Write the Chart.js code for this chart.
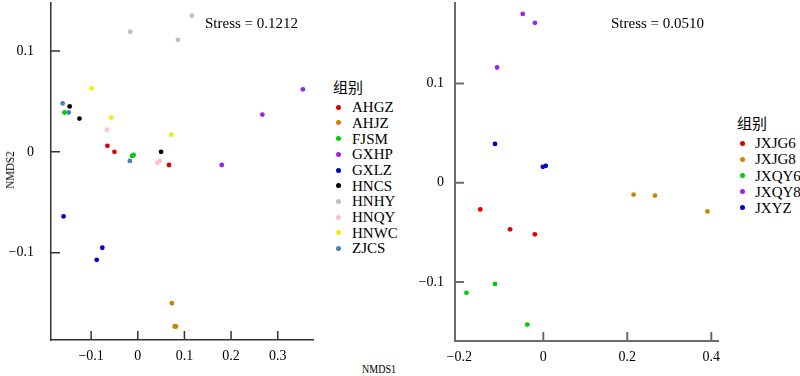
<!DOCTYPE html>
<html>
<head>
<meta charset="utf-8">
<script src="https://cdn.jsdelivr.net/npm/chart.js@4"></script>
<style>
  body { margin: 0; background: #fff; }
  #wrap { position: relative; width: 800px; height: 376px; overflow: hidden; font-family: 'Liberation Serif', serif; color: #000; }
  canvas { position: absolute; top: 0; }
  .txt { position: absolute; white-space: nowrap; }
  .leg-title { position: absolute; font: 15px 'Noto Sans CJK SC', sans-serif; line-height: 18px; }
  .leg-item { position: absolute; font-size: 15px; line-height: 16px; }
  .dot { position: absolute; width: 5px; height: 5px; border-radius: 50%; }
</style>
</head>
<body>
<div id="wrap">
  <canvas id="left" width="330" height="376" style="left:0"></canvas>
  <canvas id="right" width="330" height="376" style="left:400px"></canvas>
  <div class="txt" style="left:205px; top:14px; font-size:15px; line-height:18px;">Stress = 0.1212</div>
  <div class="txt" style="left:611px; top:14px; font-size:15px; line-height:18px;">Stress = 0.0510</div>
  <div class="txt" style="left:379px; top:369px; font-size:12.5px; line-height:14px; transform:translate(-50%,-50%) scaleX(0.8);">NMDS1</div>
  <div class="txt" style="left:10px; top:170px; font-size:13.5px; line-height:16px; transform:translate(-50%,-50%) rotate(-90deg) scaleX(0.82);">NMDS2</div>
  <div id="legLeft"></div>
  <div id="legRight"></div>
</div>
<script>
{ // scoping

// ---- left panel data ----
const leftGroups = ['AHGZ', 'AHJZ', 'FJSM', 'GXHP', 'GXLZ', 'HNCS', 'HNHY', 'HNQY', 'HNWC', 'ZJCS'];
const leftColors = ['#dd0000', '#cd8500', '#00cd00', '#a020f0', '#0000cd', '#000000', '#bebebe', '#ffc0cb', '#eeee00', '#4682b4'];
const leftNmds1 = [
  [-0.065, -0.050, 0.067],
  [0.073, 0.079, 0.082],
  [-0.157, -0.012, -0.009],
  [0.354, 0.267, 0.180],
  [-0.159, -0.076, -0.088],
  [-0.146, -0.125, 0.050],
  [0.116, -0.016, 0.086],
  [-0.066, 0.042, 0.047],
  [-0.099, -0.057, 0.072],
  [-0.161, -0.148, -0.017]
];
const leftNmds2 = [
  [0.006, 0.000, -0.013],
  [-0.150, -0.173, -0.173],
  [0.039, -0.004, -0.003],
  [0.062, 0.037, -0.013],
  [-0.064, -0.095, -0.107],
  [0.045, 0.033, 0.000],
  [0.135, 0.119, 0.111],
  [0.022, -0.011, -0.009],
  [0.063, 0.034, 0.017],
  [0.048, 0.039, -0.009]
];
const leftXTicks = [-0.1, 0, 0.1, 0.2, 0.3];
const leftYTicks = [-0.1, 0, 0.1];

// ---- right panel data ----
const rightGroups = ['JXJG6', 'JXJG8', 'JXQY6', 'JXQY8', 'JXYZ'];
const rightColors = ['#dd0000', '#cd8500', '#00cd00', '#a020f0', '#0000cd'];
const rightNmds1 = [
  [-0.150, -0.079, -0.020],
  [0.215, 0.266, 0.391],
  [-0.183, -0.115, -0.038],
  [-0.049, -0.020, -0.110],
  [-0.115, -0.001, 0.006]
];
const rightNmds2 = [
  [-0.027, -0.047, -0.052],
  [-0.012, -0.013, -0.029],
  [-0.111, -0.102, -0.143],
  [0.170, 0.161, 0.116],
  [0.039, 0.016, 0.017]
];
const rightXTicks = [-0.2, 0, 0.2, 0.4];
const rightYTicks = [-0.1, 0, 0.1];

// tick label like R: unicode minus, plain 0
function fmt(v) {
  if (Math.abs(v) < 1e-9) return '0';
  return (v < 0 ? '\u2212' : '') + Math.abs(v).toFixed(1);
}

// R-style tick marks pointing into the plot
const innerTicks = {
  id: 'innerTicks',
  afterDraw(chart, args, opts) {
    const ctx = chart.ctx;
    const area = chart.chartArea;
    const xs = chart.scales.x, ys = chart.scales.y;
    ctx.save();
    ctx.strokeStyle = opts.color;
    ctx.lineWidth = opts.width;
    ctx.beginPath();
    xs.ticks.forEach(t => {
      const px = xs.getPixelForValue(t.value);
      if (px - area.left < 5) return;
      ctx.moveTo(px, area.bottom);
      ctx.lineTo(px, area.bottom - opts.len);
    });
    ys.ticks.forEach(t => {
      const py = ys.getPixelForValue(t.value);
      ctx.moveTo(area.left, py);
      ctx.lineTo(area.left + opts.len, py);
    });
    ctx.stroke();
    ctx.restore();
  }
};

function makeChart(id, cfg) {
  const datasets = cfg.groups.map((g, i) => ({
    label: g,
    data: cfg.xs[i].map((x, j) => ({ x: x, y: cfg.ys[i][j] })),
    backgroundColor: cfg.colors[i],
    borderWidth: 0,
    pointRadius: 2.4,
    pointHoverRadius: 2.4
  }));
  const tickFont = { family: 'Liberation Serif', size: 14 };
  return new Chart(document.getElementById(id).getContext('2d'), {
    type: 'scatter',
    data: { datasets: datasets },
    plugins: [innerTicks],
    options: {
      responsive: false,
      animation: false,
      layout: { autoPadding: false, padding: { top: 3, right: cfg.padRight, left: 0, bottom: 0 } },
      plugins: {
        legend: { display: false },
        tooltip: { enabled: false },
        innerTicks: { color: cfg.axisColor, width: cfg.axisWidth, len: 9 }
      },
      scales: {
        x: {
          type: 'linear',
          min: cfg.xMin, max: cfg.xMax,
          grid: { display: false, drawTicks: false },
          border: { display: true, color: cfg.axisColor, width: cfg.axisWidth },
          afterBuildTicks: s => { s.ticks = cfg.xTicks.map(v => ({ value: v })); },
          afterFit: s => { s.height = cfg.xHeight; s.paddingLeft = 0; s.paddingRight = 0; },
          ticks: { font: tickFont, color: '#000', padding: 8, maxRotation: 0, callback: v => fmt(v) }
        },
        y: {
          type: 'linear',
          min: cfg.yMin, max: cfg.yMax,
          grid: { display: false, drawTicks: false },
          border: { display: true, color: cfg.axisColor, width: cfg.axisWidth },
          afterBuildTicks: s => { s.ticks = cfg.yTicks.map(v => ({ value: v })); },
          afterFit: s => { s.width = cfg.yWidth; s.paddingTop = 0; s.paddingBottom = 0; },
          ticks: { font: tickFont, color: '#000', padding: cfg.yPad, callback: v => fmt(v) }
        }
      }
    }
  });
}

makeChart('left', {
  groups: leftGroups, colors: leftColors, xs: leftNmds1, ys: leftNmds2,
  xTicks: leftXTicks, yTicks: leftYTicks,
  xMin: -0.186, xMax: 0.3756, yMin: -0.1864, yMax: 0.1475,
  yWidth: 51, xHeight: 36, padRight: 17, yPad: 17,
  axisColor: '#333333', axisWidth: 1.5
});

makeChart('right', {
  groups: rightGroups, colors: rightColors, xs: rightNmds1, ys: rightNmds2,
  xTicks: rightXTicks, yTicks: rightYTicks,
  xMin: -0.2102, xMax: 0.416, yMin: -0.1595, yMax: 0.181,
  yWidth: 55, xHeight: 35, padRight: 12, yPad: 11,
  axisColor: '#6b6b6b', axisWidth: 2
});

// legends (HTML, from the same group/colour arrays)
function buildLegend(el, groups, colors, titleX, titleY, dotX, textX, rowY, step) {
  let html = '<div class="leg-title" style="left:' + titleX + 'px; top:' + (titleY - 9) + 'px;">组别</div>';
  groups.forEach((g, i) => {
    const y = rowY + i * step;
    html += '<span class="dot" style="left:' + (dotX - 2.5) + 'px; top:' + (y - 2.5) + 'px; background:' + colors[i] + ';"></span>';
    html += '<div class="leg-item" style="left:' + textX + 'px; top:' + (y - 8) + 'px;">' + g + '</div>';
  });
  document.getElementById(el).innerHTML = html;
}
buildLegend('legLeft', leftGroups, leftColors, 333, 87, 338, 352, 107.3, 15.68);
buildLegend('legRight', rightGroups, rightColors, 737, 123, 742, 755, 143.3, 16.1);

} // scoping
</script>
</body>
</html>
